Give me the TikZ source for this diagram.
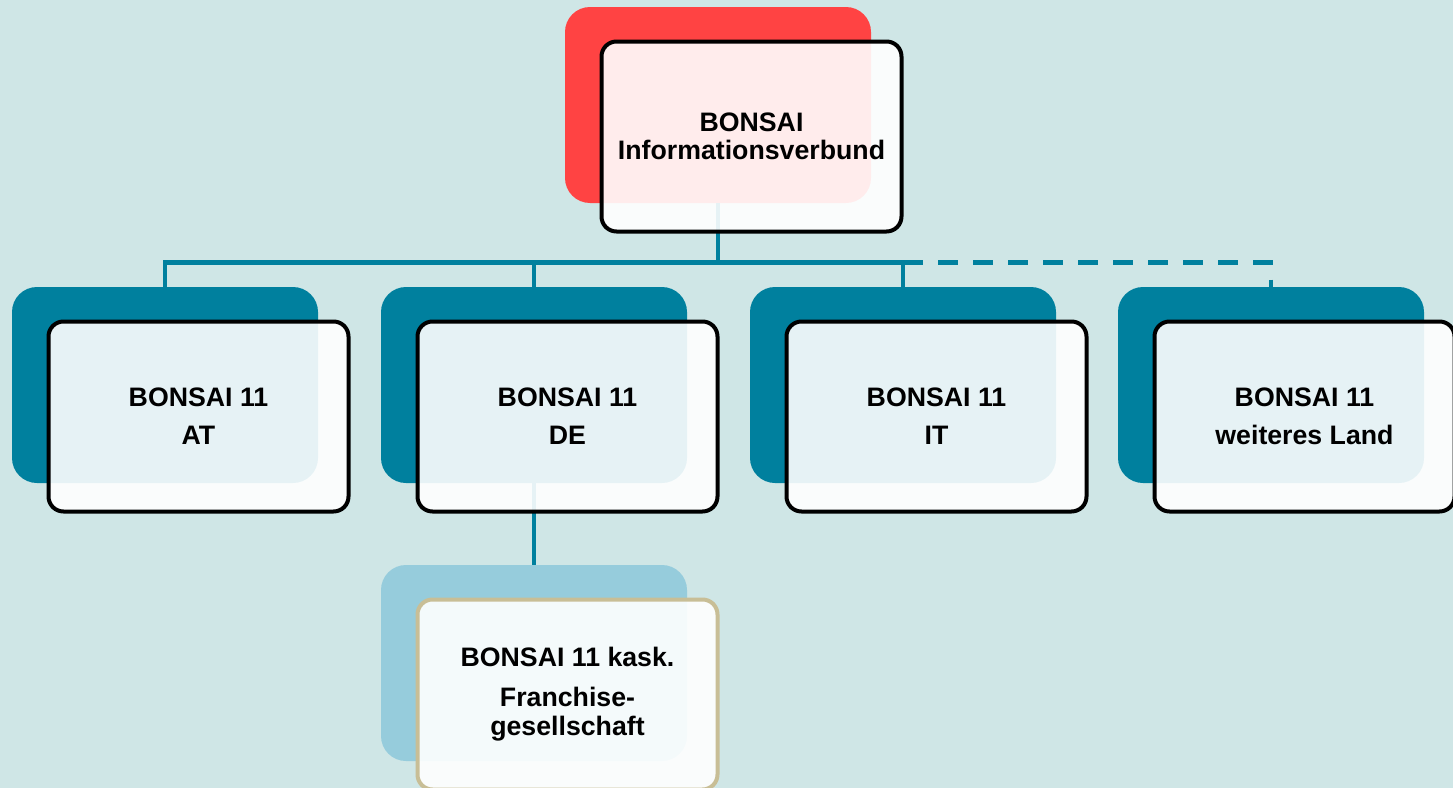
\documentclass[tikz,border=0pt]{standalone}
\usepackage{fontspec}
\setmainfont{Liberation Sans}
\usepackage{tikz}
\usetikzlibrary{positioning}

\definecolor{bgteal}{HTML}{CFE6E6}
\definecolor{bonsaired}{HTML}{FF4343}
\definecolor{bonsaiteal}{HTML}{00809E}
\definecolor{bonsailight}{HTML}{96CCDC}
\definecolor{bonsaitan}{HTML}{C8BE96}

\tikzset{
  back/.style={rounded corners=0.5cm,minimum width=6.12cm,minimum height=3.92cm,
    inner sep=0pt,draw=none},
  card/.style={draw=black,line width=0.08cm,rounded corners=0.3cm,
    fill=white,fill opacity=0.9,text opacity=1,
    minimum width=6cm,minimum height=3.8cm,inner sep=2pt,align=center,
    font=\bfseries\fontsize{15.2}{21.6}\selectfont},
  link/.style={draw=bonsaiteal,line width=0.09cm},
}

\begin{document}
\begin{tikzpicture}
\fill[bgteal] (0,0) rectangle (29.06,-15.76);
\useasboundingbox (0,0) rectangle (29.06,-15.76);
\clip (0,0) rectangle (29.06,-15.76);

% back plates
\node[back,fill=bonsaired] (rootback) at (14.36,-2.10) {};
\node[back,fill=bonsaiteal] (atback) at (3.30,-7.70) {};
\node[back,fill=bonsaiteal] (deback) at (10.68,-7.70) {};
\node[back,fill=bonsaiteal] (itback) at (18.06,-7.70) {};
\node[back,fill=bonsaiteal] (wlback) at (25.42,-7.70) {};
\node[back,fill=bonsailight] (frback) at (10.68,-13.26) {};

% connectors
\coordinate (bus) at (14.36,-5.25);
\draw[link] (rootback.south) -- (bus) -| (atback.north);
\draw[link] (bus) -| (deback.north);
\draw[link] (bus) -| (itback.north);
\draw[link,dash pattern=on 0.4cm off 0.3cm] (itback.north |- bus) -| (wlback.north);
\draw[link] (deback.south) -- (frback.north);

% front cards
\node[card,font=\bfseries\fontsize{15.2}{16}\selectfont] (root)
  at ([shift={(0.67,-0.63)}]rootback.center) {BONSAI\\Informationsverbund};
\node[card] (at) at ([shift={(0.67,-0.63)}]atback.center) {BONSAI 11\\AT};
\node[card] (de) at ([shift={(0.67,-0.63)}]deback.center) {BONSAI 11\\DE};
\node[card] (it) at ([shift={(0.67,-0.63)}]itback.center) {BONSAI 11\\IT};
\node[card] (wl) at ([shift={(0.67,-0.63)}]wlback.center) {BONSAI 11\\weiteres Land};
\node[card,draw=bonsaitan,font=\bfseries\fontsize{15.2}{16.5}\selectfont] (fr)
  at ([shift={(0.67,-0.63)}]frback.center) {BONSAI 11 kask.\\[6.3pt]Franchise-\\gesellschaft};
\end{tikzpicture}
\end{document}
